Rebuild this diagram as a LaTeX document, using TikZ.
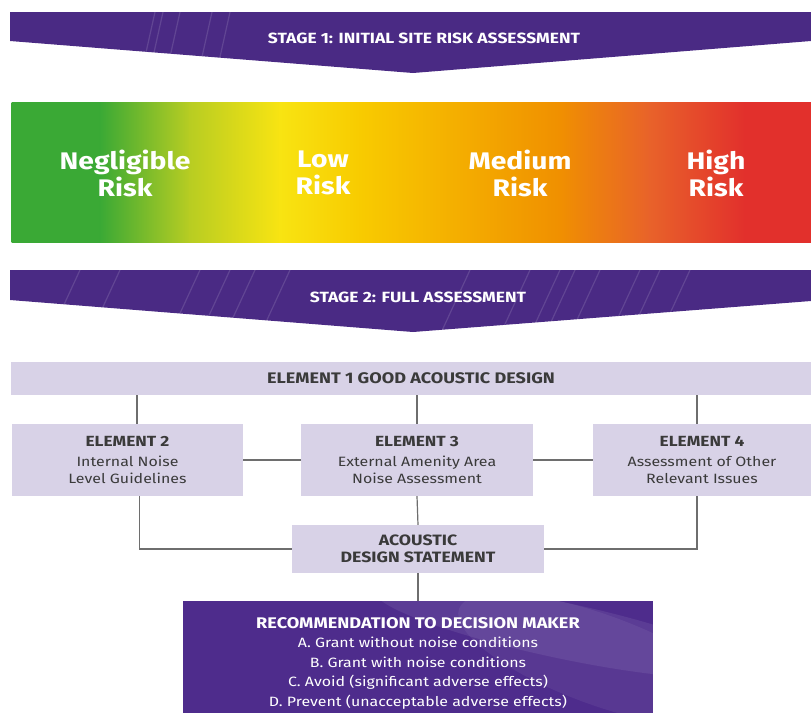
\documentclass[tikz,border=0pt]{standalone}
\usepackage{fontspec}
\setmainfont{Fira Sans}[FakeStretch=1.18]
\usetikzlibrary{calc,positioning}

\definecolor{bannerpurple}{HTML}{4A2A84}
\definecolor{recpurple}{HTML}{4E2C8C}
\definecolor{boxlilac}{HTML}{D8D2E7}
\definecolor{inkgray}{HTML}{3A3A3A}
\definecolor{linegray}{HTML}{6E6E6E}
\definecolor{riskgreen}{HTML}{3AA935}
\definecolor{riskyellowgreen}{HTML}{B8CD22}
\definecolor{riskyellow}{HTML}{F8E412}
\definecolor{riskgold}{HTML}{F8CB00}
\definecolor{riskorange}{HTML}{F09000}
\definecolor{riskorangered}{HTML}{E8622A}
\definecolor{riskred}{HTML}{E2302C}

\tikzset{
  banner/.style={fill=bannerpurple},
  streak/.style={white,opacity=.13,line width=1.2pt},
  bannertext/.style={text=white,font=\fontsize{14.8}{16}\selectfont\bfseries},
  risktext/.style={text=white,align=center,font=\fontsize{24}{27}\selectfont\bfseries},
  elembox/.style={fill=boxlilac,text=inkgray,align=center,inner sep=0pt,
    font=\fontsize{13.5}{17}\selectfont},
  elemhead/.style={font=\fontsize{15}{17}\selectfont\bfseries},
  recbox/.style={fill=recpurple,inner sep=0pt},
  rectext/.style={text=white,align=center,font=\fontsize{13.5}{19.5}\selectfont},
  link/.style={draw=linegray,line width=1.2pt},
}

\begin{document}
\begin{tikzpicture}[x=1pt,y=-1pt]
  \useasboundingbox (0,0) rectangle (811,713);

  % stage 1 banner
  \fill[banner](10,12)--(811,12)--(811,41)--(413,73)--(10,41)--cycle;
  \begin{scope}
    \clip(10,12)--(811,12)--(811,41)--(413,73)--(10,41)--cycle;
    \foreach \x in {155,163,180,212,230}
      \draw[streak](\x,12)--(\x-14,75);
  \end{scope}
  \node[bannertext](stage1)at(424,38){STAGE 1: INITIAL SITE RISK ASSESSMENT};

  % risk bar
  \foreach \a/\b/\ca/\cb in {12/100/riskgreen/riskgreen,
      100/190/riskgreen/riskyellowgreen,
      190/280/riskyellowgreen/riskyellow,
      280/360/riskyellow/riskgold,
      360/559/riskgold/riskorange,
      559/650/riskorange/riskorangered,
      650/745/riskorangered/riskred,
      745/811/riskred/riskred}
    \shade[left color=\ca,right color=\cb](\a-0.3,102) rectangle (\b+0.3,242);
  \node[risktext](negligible)at(125,173){Negligible\\Risk};
  \node[risktext](low)at(323,173){Low\\Risk};
  \node[risktext](medium)at(520,173){Medium\\Risk};
  \node[risktext](high)at(716,173){High\\Risk};

  % stage 2 banner
  \fill[banner](10,270)--(811,270)--(811,301)--(413,332)--(10,300)--cycle;
  \begin{scope}
    \clip(10,270)--(811,270)--(811,301)--(413,332)--(10,300)--cycle;
    \foreach \x in {80,120,200,230,255,290,470,530,560,575,600,640,660,690}
      \draw[streak](\x,270)--(\x-30,335);
  \end{scope}
  \node[bannertext](stage2)at(418,297){STAGE 2: FULL ASSESSMENT};

  % elements
  \node[elembox,elemhead,minimum width=800,minimum height=33,font=\fontsize{15.3}{17}\selectfont\bfseries]
    (el1)at(411,378.5){ELEMENT 1 GOOD ACOUSTIC DESIGN};
  \node[elembox,minimum width=231,minimum height=72](el2)at(127.5,460)
    {{\fontsize{14.7}{17}\selectfont\bfseries ELEMENT 2}\\[3pt]Internal Noise\\Level Guidelines};
  \node[elembox,minimum width=232,minimum height=72](el3)at(417,460)
    {{\fontsize{14.7}{17}\selectfont\bfseries ELEMENT 3}\\[3pt]External Amenity Area\\Noise Assessment};
  \node[elembox,minimum width=218,minimum height=72](el4)at(702,460)
    {{\fontsize{14.7}{17}\selectfont\bfseries ELEMENT 4}\\[3pt]Assessment of Other\\Relevant Issues};
  \node[elembox,elemhead,minimum width=252,minimum height=48]
    (ads)at(418,549){ACOUSTIC\\DESIGN STATEMENT};

  % recommendation
  \node[recbox,minimum width=470,minimum height=112](rec)at(418,657){};
  \begin{scope}
    \clip(rec.south west)rectangle(rec.north east);
    \fill[white,opacity=.08,rotate around={-12:(560,630)}](560,630)ellipse[x radius=190,y radius=28];
    \fill[white,opacity=.06,rotate around={-20:(600,660)}](600,660)ellipse[x radius=150,y radius=45];
  \end{scope}
  \node[rectext](rectitle)at($(rec.center)+(0,6)$)
    {{\fontsize{15.4}{19.5}\selectfont\bfseries RECOMMENDATION TO DECISION MAKER}\\
     A. Grant without noise conditions\\
     B. Grant with noise conditions\\
     C. Avoid (significant adverse effects)\\
     D. Prevent (unacceptable adverse effects)};

  % connectors
  \draw[link]([xshift=9.5pt]el2.north)--([xshift=9.5pt]el2.north|-el1.south);
  \draw[link](el3.north)--(el3.north|-el1.south);
  \draw[link]([xshift=-5pt]el4.north)--([xshift=-5pt]el4.north|-el1.south);
  \draw[link](el2.east)--(el3.west);
  \draw[link](el3.east)--(el4.west);
  \draw[link]([xshift=12pt]el2.south)|-(ads.west);
  \draw[link]([xshift=-5pt]el4.south)|-(ads.east);
  \draw[link](el3.south)--(ads.north);
  \draw[link](ads.south)--(rec.north);
\end{tikzpicture}
\end{document}
